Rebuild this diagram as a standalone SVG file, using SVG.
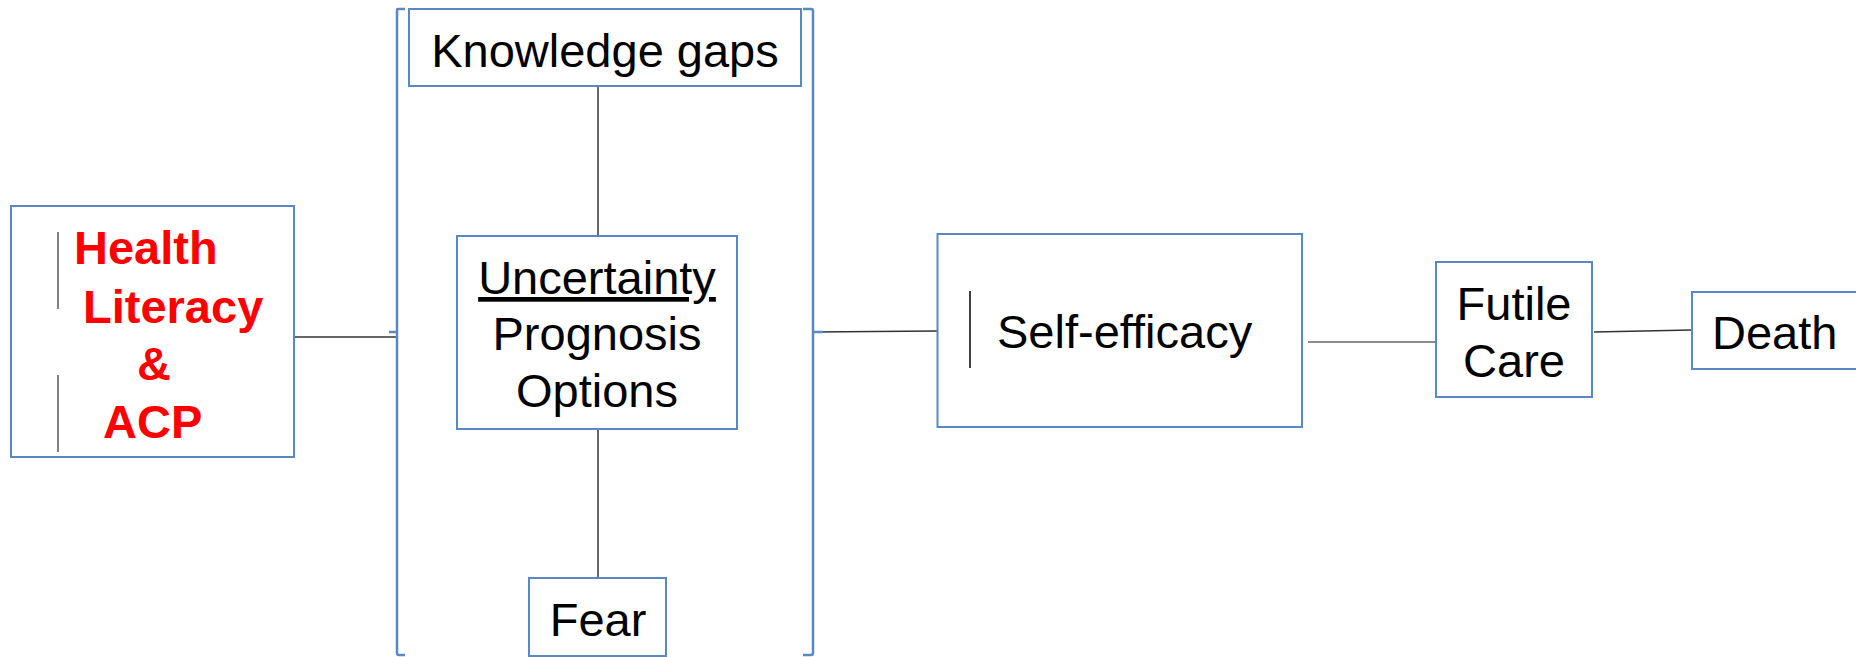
<svg xmlns="http://www.w3.org/2000/svg" width="1856" height="657" viewBox="0 0 1856 657">
<style>
.box{fill:#ffffff;stroke:#5b87c2;stroke-width:2}
.br{fill:none;stroke:#5b87c2;stroke-width:2.5}
.t{font-family:"Liberation Sans",Arial,sans-serif;font-size:47px;fill:#000000}
.r{font-family:"Liberation Sans",Arial,sans-serif;font-size:47px;font-weight:bold;fill:#ff0000}
.bar{stroke:#808080;stroke-width:2}
.c{fill:none;stroke:#333333;stroke-width:1.5}
</style>
<rect width="1856" height="657" fill="#ffffff"/>
<g id="connectors">
<line class="c" x1="294" y1="337" x2="397" y2="337"/>
<line class="c" x1="598" y1="86" x2="598" y2="236"/>
<line class="c" x1="598" y1="429" x2="598" y2="578"/>
<line class="c" x1="813" y1="332" x2="937" y2="331"/>
<line class="c" x1="1308" y1="342" x2="1436" y2="342" style="stroke:#666666"/>
<line class="c" x1="1594" y1="332" x2="1692" y2="330"/>
</g>
<g id="bracket">
<path class="br" d="M405,9 L398,9 Q397,9 397,11 L397,653 Q397,655 399,655 L405,655"/>
<path class="br" d="M389,332 L397,332"/>
<path class="br" d="M803,9 L811,9 Q813,9 813,11 L813,653 Q813,655 811,655 L803,655"/>
<path class="br" d="M813,332 L823,332"/>
</g>
<g id="health">
<rect class="box" x="11" y="206" width="283" height="251"/>
<line class="bar" x1="58" y1="232" x2="58" y2="309"/>
<line class="bar" x1="58" y1="375" x2="58" y2="452"/>
<text class="r" x="74" y="264">Health</text>
<text class="r" x="83" y="323">Literacy</text>
<text class="r" x="137" y="380">&amp;</text>
<text class="r" x="103" y="438">ACP</text>
</g>
<g id="knowledge">
<rect class="box" x="409" y="9" width="392" height="77"/>
<text class="t" x="605" y="67" text-anchor="middle">Knowledge gaps</text>
</g>
<g id="uncertainty">
<rect class="box" x="457" y="236" width="280" height="193"/>
<text class="t" x="597" y="294" text-anchor="middle" text-decoration="underline">Uncertainty</text>
<text class="t" x="597" y="350" text-anchor="middle">Prognosis</text>
<text class="t" x="597" y="407" text-anchor="middle">Options</text>
</g>
<g id="fear">
<rect class="box" x="529" y="578" width="137" height="78"/>
<text class="t" x="598" y="636" text-anchor="middle">Fear</text>
</g>
<g id="selfefficacy">
<rect class="box" x="937.5" y="234" width="364.5" height="193"/>
<line x1="970" y1="291" x2="970" y2="368" stroke="#000000" stroke-width="1.5"/>
<text class="t" x="997" y="348">Self-efficacy</text>
</g>
<g id="futile">
<rect class="box" x="1436" y="262" width="156" height="135"/>
<text class="t" x="1514" y="320" text-anchor="middle">Futile</text>
<text class="t" x="1514" y="377" text-anchor="middle">Care</text>
</g>
<g id="death">
<rect class="box" x="1692" y="292" width="170" height="77"/>
<text class="t" x="1712" y="349">Death</text>
</g>
</svg>
